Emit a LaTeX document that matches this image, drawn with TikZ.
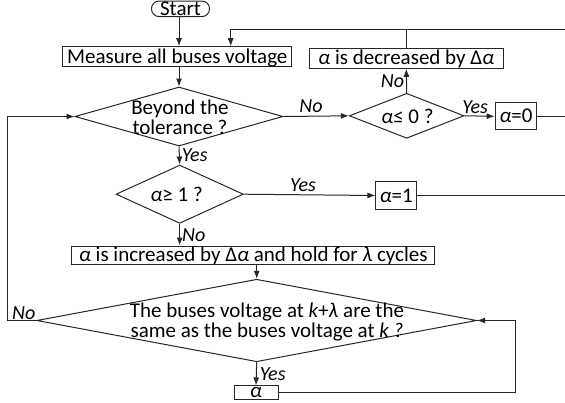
\documentclass[tikz,border=0pt]{standalone}
\usepackage{fontspec}
\setmainfont{Carlito}
\usetikzlibrary{shapes.geometric,arrows.meta}
\begin{document}
\begin{tikzpicture}[x=1pt,y=-1pt,
  every node/.style={font=\fontsize{21}{20}\selectfont},
  line/.style={draw=black!85, line width=1pt},
  arr/.style={line, -{Latex[length=8pt,width=6pt]}},
  boxnode/.style={draw=black!85, line width=1pt, rectangle, inner sep=0pt, text height=14pt, text depth=1pt},
  dia/.style={draw=black!85, line width=1pt, diamond, inner sep=0pt},
  lbl/.style={font=\fontsize{20}{19}\selectfont\itshape, inner sep=0pt},
]
\useasboundingbox (0,0) rectangle (565,402);
\newcommand{\al}{{\itshape α}}
% nodes
\node[draw=black!85, line width=1pt, rounded corners=7.5pt, inner sep=0pt, minimum width=58pt, minimum height=15.5pt, text height=13pt, text depth=0pt] (start) at (180.5,8.8) {Start};
\node[boxnode, minimum width=229.3pt, minimum height=20pt] (measure) at (177.3,56.7) {Measure all buses voltage};
\node[boxnode, minimum width=194pt, minimum height=20pt] (dec) at (406.3,58.3) {\al\ is decreased by Δ\al};
\node[dia, minimum width=208pt, minimum height=59pt] (beyond) at (179,116.5) {};
\node[align=center, inner sep=0pt] at (180,117.5) {Beyond the\\tolerance ?};
\node[dia, minimum width=114.7pt, minimum height=45pt] (le0) at (406.7,115.8) {};
\node[inner sep=0pt, text height=14pt, text depth=1pt] at (407.5,116.7) {\al≤ 0 ?};
\node[boxnode, minimum width=41.7pt, minimum height=27.3pt] (a0) at (516,116.3) {\al=0};
\node[dia, minimum width=127.3pt, minimum height=58.3pt] (ge1) at (179.7,194.2) {};
\node[inner sep=0pt, text height=14pt, text depth=1pt] at (176.7,194.5) {\al≥ 1 ?};
\node[boxnode, minimum width=40.7pt, minimum height=27.6pt] (a1) at (396.3,195.5) {\al=1};
\node[boxnode, minimum width=363.3pt, minimum height=18pt] (inc) at (253.3,255) {\al\ is increased by Δ\al\ and hold for {\itshape λ} cycles};
\node[dia, minimum width=440pt, minimum height=82.5pt] (same) at (256.7,320.5) {};
\node[align=center, inner sep=0pt] at (267,322.5) {The buses voltage at {\itshape k}+{\itshape λ} are the\\same as the buses voltage at {\itshape k ?}};
\node[boxnode, minimum width=44pt, minimum height=13.5pt, text height=10pt, text depth=0pt] (alpha) at (256,392.7) {\al};
% coordinates
\coordinate (topR) at (565,29.5);
\coordinate (topL) at (230.7,29.5);
\coordinate (r0) at (565,116.3);
\coordinate (r1) at (565,195.5);
\coordinate (lft) at (7.7,320.5);
\coordinate (rgt) at (515,392.7);
% connectors
\draw[arr] (start.south -| 179,0) -- (179,0 |- measure.north);
\draw[arr] (topR) -- (topL) -- (topL |- measure.north);
\draw[line] (dec.north) -- (dec.north |- topR);
\draw[arr] (beyond.north |- measure.south) -- (beyond.north);
\draw[arr] (beyond.east) -- (le0.west) node[lbl, pos=0.42, above=3pt] {No};
\draw[arr] (le0.north) -- (dec.south) node[lbl, midway, left=2pt] {No};
\draw[arr] (le0.east) -- (a0.west) node[lbl, pos=0.35, above=2pt] {Yes};
\draw[line] (a0.east) -- (r0);
\draw[arr] (beyond.south) -- (ge1.north) node[lbl, midway, right=2pt] {Yes};
\draw[arr] (ge1.east) -- (a1.west) node[lbl, pos=0.45, above=3pt] {Yes};
\draw[line] (a1.east) -- (r1);
\draw[arr] (ge1.south) -- (ge1.south |- inc.north) node[lbl, midway, right=2pt] {No};
\draw[arr] (same.north |- inc.south) -- (same.north);
\draw[arr] (same.west) -- (lft) |- (beyond.west);
\node[lbl, anchor=south west] at (12,320) {No};
\draw[arr] (same.south) -- (alpha.north) node[lbl, midway, right=3pt] {Yes};
\draw[arr] (alpha.east) -- (rgt) |- (same.east);
\end{tikzpicture}
\end{document}
